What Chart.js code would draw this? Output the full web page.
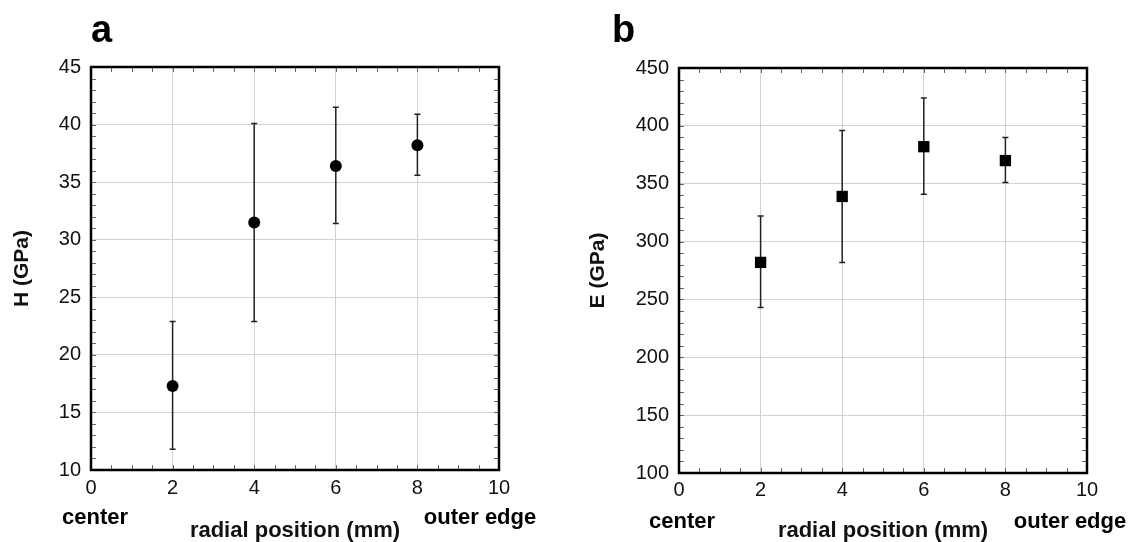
<!DOCTYPE html>
<html>
<head>
<meta charset="utf-8">
<script src="https://cdn.jsdelivr.net/npm/chart.js@4"></script>
<style>
  html, body { margin: 0; padding: 0; background: #fff; }
  #page { position: relative; width: 1130px; height: 542px; overflow: hidden; }
  .panel { position: absolute; top: 0; width: 565px; height: 542px; }
  #panel-a { left: 0; }
  #panel-b { left: 565px; }
</style>
</head>
<body>
<div id="page">
  <div class="panel" id="panel-a"><canvas id="chartA"></canvas></div>
  <div class="panel" id="panel-b"><canvas id="chartB"></canvas></div>
</div>
<script>
// radial positions (mm)
const positions = [2, 4, 6, 8];

// hardness H (GPa): mean, upper and lower ends of the error bars
const hardness = [17.3, 31.5, 36.4, 38.2];
const hardnessHigh = [22.9, 40.1, 41.5, 40.9];
const hardnessLow = [11.8, 22.9, 31.4, 35.6];

// modulus E (GPa)
const modulus = [282, 339, 382, 370];
const modulusHigh = [322, 396, 424, 390];
const modulusLow = [243, 282, 341, 351];

const FONT = '"Liberation Sans", Arial, Helvetica, sans-serif';

// error bars under the markers
const errorBars = {
    id: 'errorBars',
    beforeDatasetsDraw(chart) {
        const { ctx, scales: { x, y } } = chart;
        ctx.save();
        ctx.strokeStyle = '#222';
        ctx.lineWidth = 1.5;
        chart.data.datasets.forEach(ds => {
            ds.data.forEach(p => {
                const px = x.getPixelForValue(p.x);
                const top = y.getPixelForValue(p.hi);
                const bot = y.getPixelForValue(p.lo);
                ctx.beginPath();
                ctx.moveTo(px, top); ctx.lineTo(px, bot);
                ctx.moveTo(px - 3, top); ctx.lineTo(px + 3, top);
                ctx.moveTo(px - 3, bot); ctx.lineTo(px + 3, bot);
                ctx.stroke();
            });
        });
        ctx.restore();
    }
};

// box frame, inner minor ticks, panel letter and end labels
const frame = {
    id: 'frame',
    afterDraw(chart, args, opts) {
        const { ctx, chartArea: a, scales: { x, y } } = chart;
        ctx.save();
        ctx.strokeStyle = '#666';
        ctx.lineWidth = 1;
        ctx.beginPath();
        for (let v = x.min; v <= x.max + 1e-9; v += opts.xMinor) {
            const px = Math.round(x.getPixelForValue(v)) + 0.5;
            ctx.moveTo(px, a.bottom); ctx.lineTo(px, a.bottom - 5);
            ctx.moveTo(px, a.top); ctx.lineTo(px, a.top + 5);
        }
        for (let v = y.min; v <= y.max + 1e-9; v += opts.yMinor) {
            const py = Math.round(y.getPixelForValue(v)) + 0.5;
            ctx.moveTo(a.left, py); ctx.lineTo(a.left + 5, py);
            ctx.moveTo(a.right, py); ctx.lineTo(a.right - 5, py);
        }
        ctx.stroke();

        ctx.strokeStyle = '#000';
        ctx.lineWidth = 2.5;
        ctx.strokeRect(a.left, a.top, a.right - a.left, a.bottom - a.top);

        ctx.fillStyle = '#000';
        ctx.font = 'bold 38px ' + FONT;
        ctx.textAlign = 'left';
        ctx.textBaseline = 'alphabetic';
        ctx.fillText(opts.letter, opts.letterX, opts.letterY);

        ctx.font = 'bold 22px ' + FONT;
        ctx.textAlign = 'center';
        ctx.textBaseline = 'middle';
        ctx.fillText('center', opts.centerX, opts.endY);
        ctx.fillText('outer edge', opts.edgeX, opts.endY);
        ctx.restore();
    }
};

function makePanel(canvasId, cfg) {
    const points = positions.map((p, i) => ({ x: p, y: cfg.values[i], hi: cfg.high[i], lo: cfg.low[i] }));
    return new Chart(document.getElementById(canvasId), {
        type: 'scatter',
        data: {
            datasets: [{
                data: points,
                pointStyle: cfg.pointStyle,
                pointRadius: cfg.radius,
                pointBackgroundColor: '#000',
                pointBorderColor: '#000',
                pointBorderWidth: 0
            }]
        },
        options: {
            responsive: true,
            maintainAspectRatio: false,
            animation: false,
            layout: { padding: { top: cfg.top, right: cfg.right, bottom: 0, left: 0 } },
            plugins: {
                legend: { display: false },
                tooltip: { enabled: false },
                frame: {
                    xMinor: 0.5, yMinor: cfg.yMinor,
                    letter: cfg.letter, letterX: cfg.letterX, letterY: 42,
                    centerX: cfg.centerX, edgeX: cfg.edgeX, endY: cfg.endY
                }
            },
            scales: {
                x: {
                    type: 'linear',
                    min: 0, max: 10,
                    afterFit: s => { s.height = cfg.xHeight; },
                    grid: { color: '#d2d2d2', lineWidth: 1, drawTicks: false },
                    border: { display: false },
                    ticks: { stepSize: 2, padding: cfg.xPad, color: '#111', font: { family: FONT, size: 20 } },
                    title: {
                        display: true,
                        text: 'radial position (mm)',
                        color: '#111',
                        padding: { top: 0, bottom: 0 },
                        font: { family: FONT, size: 22, weight: 'bold', lineHeight: 1 }
                    }
                },
                y: {
                    min: cfg.yMin, max: cfg.yMax,
                    afterFit: s => { s.width = cfg.yWidth; },
                    grid: { color: '#d2d2d2', lineWidth: 1, drawTicks: false },
                    border: { display: false },
                    ticks: { stepSize: cfg.yStep, padding: 10, color: '#111', font: { family: FONT, size: 20 } },
                    title: {
                        display: true,
                        text: cfg.yTitle,
                        color: '#111',
                        padding: { top: cfg.yTitlePad, bottom: 0 },
                        font: { family: FONT, size: 21, weight: 'bold' }
                    }
                }
            }
        },
        plugins: [errorBars, frame]
    });
}

makePanel('chartA', {
    values: hardness, high: hardnessHigh, low: hardnessLow,
    pointStyle: 'circle', radius: 6,
    yMin: 10, yMax: 45, yStep: 5, yMinor: 1, yTitle: 'H (GPa)',
    top: 67, right: 66, yWidth: 91, xHeight: 72, xPad: 6, yTitlePad: 10,
    letter: 'a', letterX: 91, centerX: 95, edgeX: 480, endY: 518
});

makePanel('chartB', {
    values: modulus, high: modulusHigh, low: modulusLow,
    pointStyle: 'rect', radius: 8,
    yMin: 100, yMax: 450, yStep: 50, yMinor: 10, yTitle: 'E (GPa)',
    top: 68, right: 43, yWidth: 114, xHeight: 69, xPad: 5, yTitlePad: 21,
    letter: 'b', letterX: 47, centerX: 117, edgeX: 505, endY: 522
});
</script>
</body>
</html>
